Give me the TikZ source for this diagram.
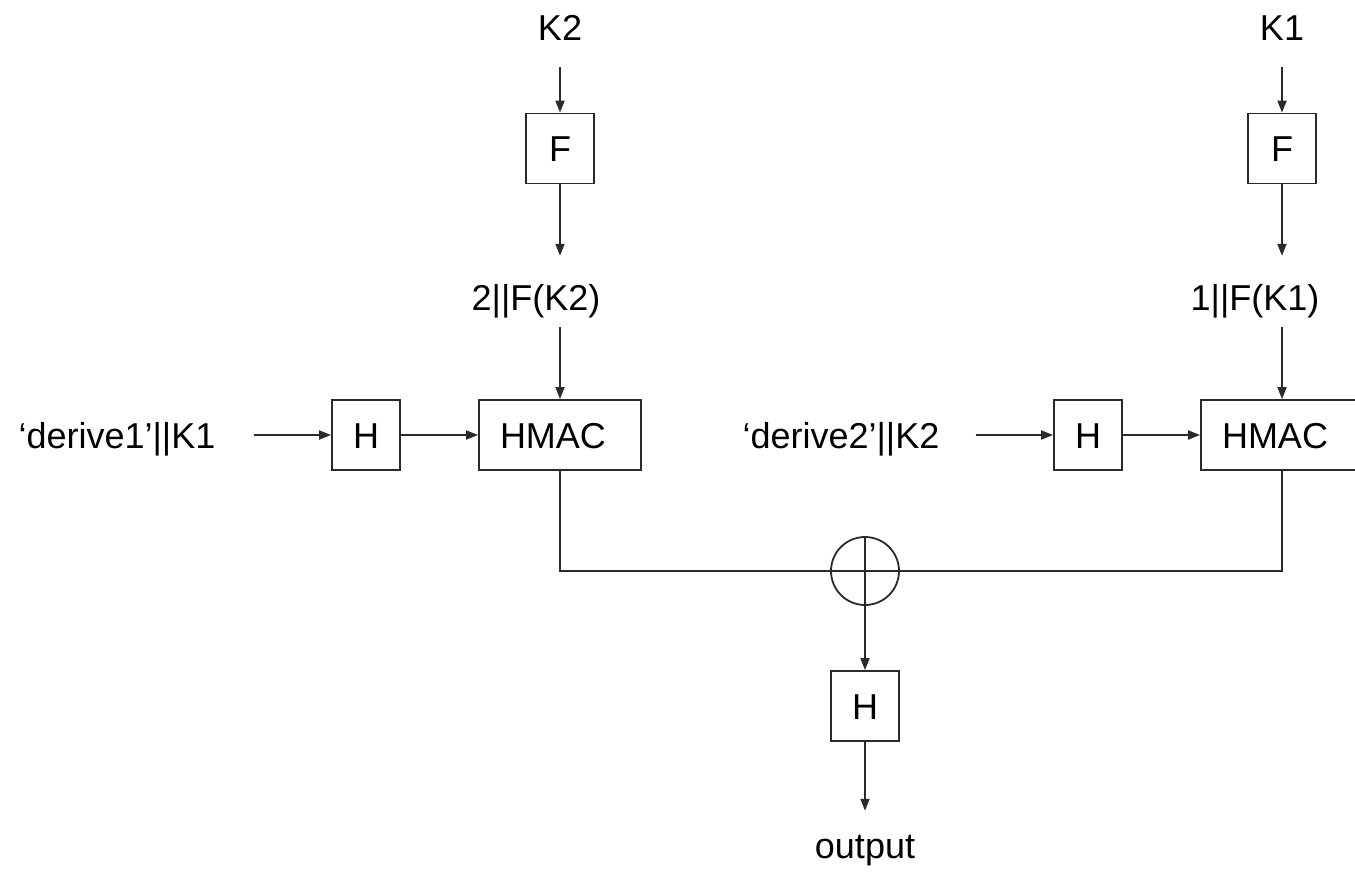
\documentclass[tikz,border=0pt]{standalone}
\usepackage{fontspec}
\setmainfont{Liberation Sans}
\usetikzlibrary{arrows.meta}
\definecolor{ln}{HTML}{2A2A2A}
\tikzset{
  lbl/.style={inner sep=0pt, text height=26pt, text depth=0pt, font=\fontsize{36}{40}\selectfont},
  box/.style={draw=ln, line width=1.8pt, inner sep=0pt, font=\fontsize{36}{40}\selectfont, text height=26pt, text depth=0pt},
  sq/.style={box, minimum width=68pt, minimum height=70pt},
  wide/.style={box, minimum width=162pt, minimum height=70pt},
  arr/.style={draw=ln, line width=1.8pt, -{Triangle[length=12pt,width=9pt]}},
  ln/.style={draw=ln, line width=1.8pt},
}
\begin{document}
\begin{tikzpicture}[x=1pt,y=-1pt]
\useasboundingbox (0,0) rectangle (1355,872);
\clip (0,0) rectangle (1355,872);
% top keys
\node[lbl] (k2) at (560,28) {K2};
\node[lbl] (k1) at (1282,28) {K1};
\node[sq] (f2) at (560,148.5) {F};
\node[sq] (f1) at (1282,148.5) {F};
\node[lbl] (t2) at (536,297) {2||F(K2)};
\node[lbl] (t1) at (1255,297) {1||F(K1)};
% middle row
\node[lbl] (d1) at (117,435) {‘derive1’||K1};
\node[sq] (h1) at (366,435) {H};
\node[wide] (m1) at (560,435) {\hspace*{-14pt}HMAC};
\node[lbl] (d2) at (841,435) {‘derive2’||K2};
\node[sq] (h2) at (1088,435) {H};
\node[wide] (m2) at (1282,435) {\hspace*{-14pt}HMAC};
% xor
\node[draw=ln, line width=1.8pt, circle, minimum size=68pt, inner sep=0pt] (x) at (865,571) {};
\node[sq] (h3) at (865,706) {H};
\node[lbl] (out) at (865,845) {output};
% connectors
\draw[arr, shorten <=26pt] (k2) -- (f2);
\draw[arr, shorten <=26pt] (k1) -- (f1);
\draw[arr, shorten >=28pt] (f2) -- (t2.north -| f2);
\draw[arr, shorten >=28pt] (f1) -- (t1.north -| f1);
\draw[arr, shorten <=17pt] (t2.south -| m1) -- (m1);
\draw[arr, shorten <=17pt] (t1.south -| m2) -- (m2);
\draw[arr, shorten <=38pt] (d1) -- (h1);
\draw[arr] (h1) -- (m1);
\draw[arr, shorten <=36pt] (d2) -- (h2);
\draw[arr] (h2) -- (m2);
\draw[ln] (m1.south) |- (x.west) -- (x.east) -| (m2.south);
\draw[ln] (x.north) -- (x.south);
\draw[arr] (x.south) -- (h3);
\draw[arr, shorten >=21pt] (h3) -- (out);
\end{tikzpicture}
\end{document}
